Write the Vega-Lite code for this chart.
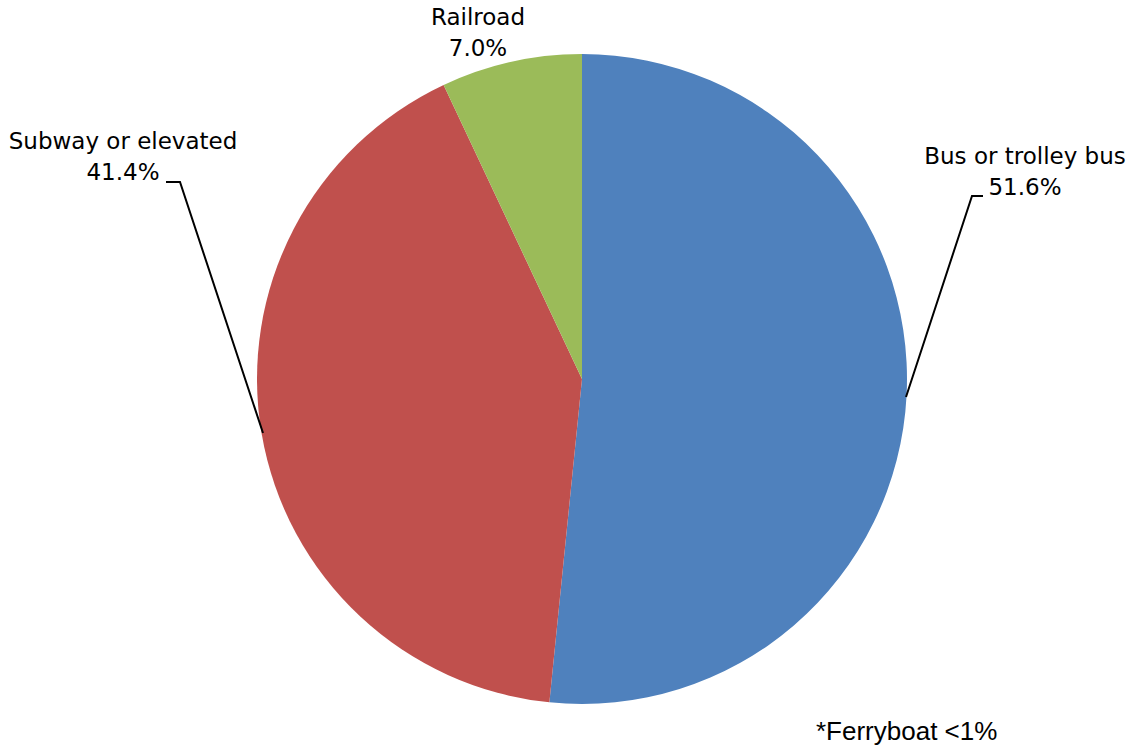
{
  "$schema": "https://vega.github.io/schema/vega-lite/v6.json",
  "width": 1102,
  "height": 742,
  "autosize": {"type": "none"},
  "padding": {"left": 31, "right": 0, "top": 8, "bottom": 0},
  "background": "white",
  "config": {"view": {"stroke": null}},
  "datasets": {
    "slices": [
      {"mode": "Bus or trolley bus", "pct": 51.6, "ord": 1},
      {"mode": "Subway or elevated", "pct": 41.4, "ord": 2},
      {"mode": "Railroad", "pct": 7.0, "ord": 3}
    ],
    "labels": [
      {"label": "Bus or trolley bus\n51.6%", "lx": 443, "ly": 222},
      {"label": "Subway or elevated\n41.4%", "lx": -459, "ly": 237},
      {"label": "Railroad\n7.0%", "lx": -104, "ly": 361}
    ],
    "leaders": [
      {"grp": "Bus", "seq": 1, "px": 324, "py": -18},
      {"grp": "Bus", "seq": 2, "px": 390, "py": 183},
      {"grp": "Bus", "seq": 3, "px": 401, "py": 183},
      {"grp": "Subway", "seq": 1, "px": -416, "py": 197},
      {"grp": "Subway", "seq": 2, "px": -402, "py": 197},
      {"grp": "Subway", "seq": 3, "px": -319, "py": -54}
    ],
    "notes": [
      {"note": "*Ferryboat <1%", "nx": 234, "ny": -353}
    ]
  },
  "layer": [
    {
      "data": {"name": "slices"},
      "mark": {"type": "arc", "outerRadius": 325, "stroke": null},
      "encoding": {
        "theta": {"field": "pct", "type": "quantitative", "stack": true},
        "order": {"field": "ord", "type": "quantitative", "sort": "ascending"},
        "color": {
          "field": "mode",
          "type": "nominal",
          "scale": {
            "domain": ["Bus or trolley bus", "Subway or elevated", "Railroad"],
            "range": ["#4F81BD", "#C0504D", "#9BBB59"]
          },
          "legend": null
        }
      }
    },
    {
      "data": {"name": "leaders"},
      "mark": {"type": "line", "color": "black", "strokeWidth": 2},
      "encoding": {
        "x": {"field": "px", "type": "quantitative", "scale": {"domain": [-551, 551], "nice": false, "zero": false}, "axis": null},
        "y": {"field": "py", "type": "quantitative", "scale": {"domain": [-371, 371], "nice": false, "zero": false}, "axis": null},
        "detail": {"field": "grp", "type": "nominal"},
        "order": {"field": "seq", "type": "quantitative"}
      }
    },
    {
      "data": {"name": "labels"},
      "mark": {"type": "text", "font": "DejaVu Sans", "fontSize": 23, "lineBreak": "\n", "lineHeight": 31, "align": "center", "baseline": "middle", "color": "black"},
      "encoding": {
        "x": {"field": "lx", "type": "quantitative", "scale": {"domain": [-551, 551], "nice": false, "zero": false}, "axis": null},
        "y": {"field": "ly", "type": "quantitative", "scale": {"domain": [-371, 371], "nice": false, "zero": false}, "axis": null},
        "text": {"field": "label", "type": "nominal"}
      }
    },
    {
      "data": {"name": "notes"},
      "mark": {"type": "text", "font": "Liberation Sans", "fontSize": 26, "align": "left", "baseline": "middle", "color": "black"},
      "encoding": {
        "x": {"field": "nx", "type": "quantitative", "scale": {"domain": [-551, 551], "nice": false, "zero": false}, "axis": null},
        "y": {"field": "ny", "type": "quantitative", "scale": {"domain": [-371, 371], "nice": false, "zero": false}, "axis": null},
        "text": {"field": "note", "type": "nominal"}
      }
    }
  ],
  "resolve": {"scale": {"x": "shared", "y": "shared"}}
}
